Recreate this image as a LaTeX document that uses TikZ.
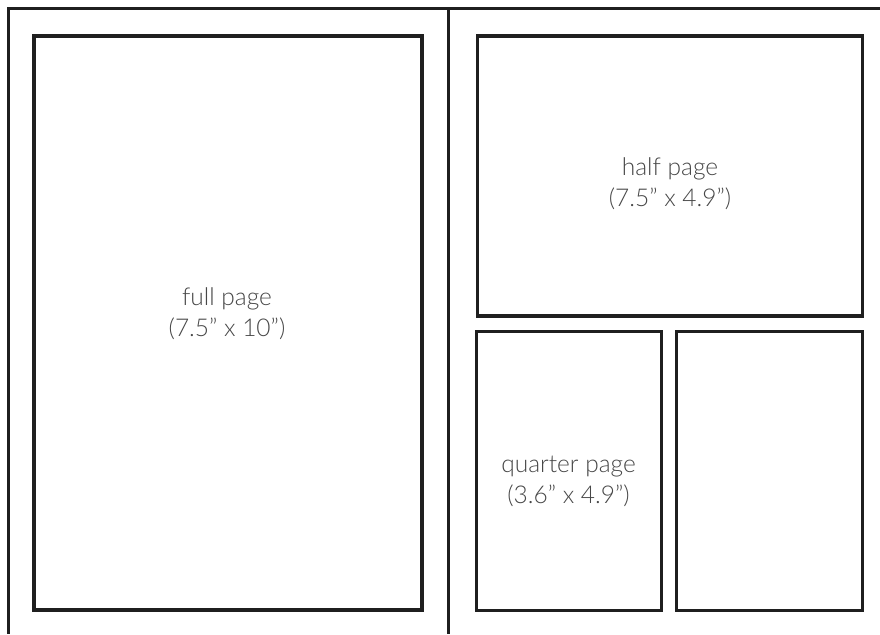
\documentclass[tikz,border=0pt]{standalone}
\usepackage{fontspec}
\setmainfont{Lato Light}
\begin{document}
\begin{tikzpicture}[x=1pt,y=-1pt,
  frame/.style={line width=3pt,draw=black!88},
  adbox/.style={line width=3.4pt,draw=black!88,inner sep=0pt,outer sep=0pt,anchor=north west},
  lbl/.style={text=black!72,font=\fontsize{24.5}{31}\selectfont,align=center}]
\useasboundingbox (0,0) rectangle (880,634);
\coordinate (tl) at (8,8.5);
\coordinate (tr) at (880,8.5);
\coordinate (bl) at (8,634);
\coordinate (dt) at (448,8.5);
\coordinate (db) at (448,634);
\draw[frame] (tr) -- (tl) -- (bl);
\draw[frame] (dt) -- (db);
\node[adbox,minimum width=388pt,minimum height=574pt] (full) at (34,36) {};
\node[adbox,minimum width=385pt,minimum height=280pt] (half) at (477.5,36) {};
\node[adbox,minimum width=185pt,minimum height=279pt] (quarter) at (476.5,331.5) {};
\node[adbox,minimum width=186pt,minimum height=279pt] (quarter2) at (676.5,331.5) {};
\node[lbl] (tfull) at (227,314) {full page\\(7.5" x 10")};
\node[lbl] (thalf) at (670,184) {half page\\(7.5" x 4.9")};
\node[lbl] (tquarter) at (568.5,481) {quarter page\\(3.6" x 4.9")};
\end{tikzpicture}
\end{document}
